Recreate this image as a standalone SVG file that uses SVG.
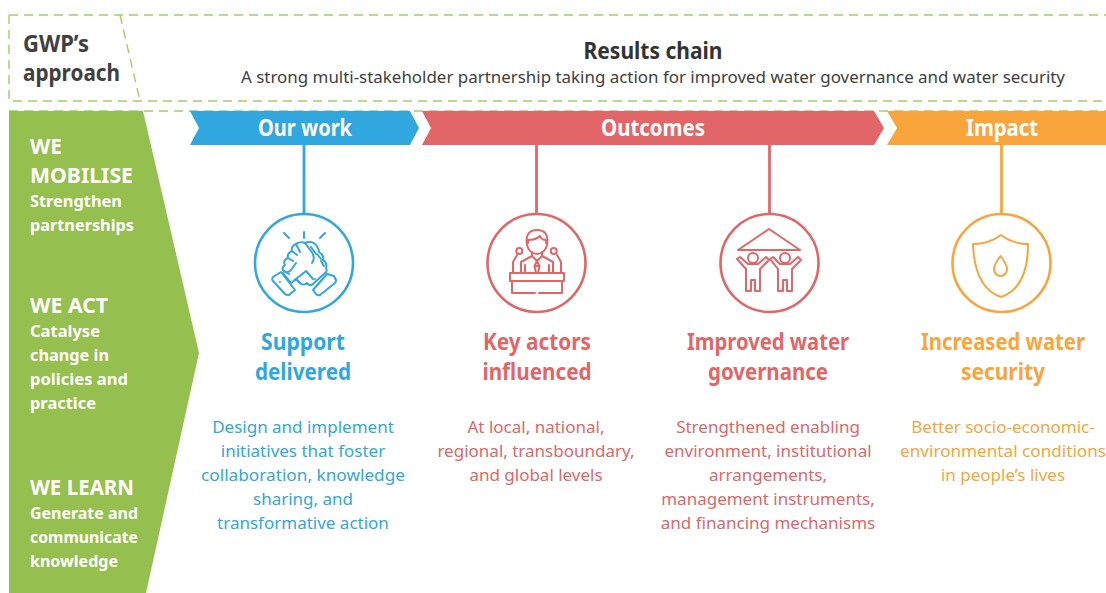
<svg xmlns="http://www.w3.org/2000/svg" width="1106" height="593" viewBox="0 0 1106 593">
<style>
text{font-family:"Noto Sans","Open Sans","Liberation Sans",sans-serif;text-anchor:middle;}
.dash{fill:none;stroke:#a5cb6a;stroke-width:1.4;stroke-dasharray:9 6}
.side{fill:#fff;font-weight:700;text-anchor:start}
.h1{font-size:22px}.h2{font-size:16.500px}
.band{fill:#fff;font-size:23px;font-weight:700}
.title{font-size:23px;font-weight:700}
.body{font-size:17px}
.ic{fill:none;stroke-width:2;stroke-linejoin:round;stroke-linecap:round}
.blue{stroke:#30a7df}.red{stroke:#e26667}.org{stroke:#f9a53c}
.tb{fill:#30a7df}.tr{fill:#e26667}.to{fill:#f9a53c}
.cir{fill:#fff;stroke-width:2.600}
.conn{stroke-width:2.800;fill:none}
</style>
<g id="frame">
<path class="dash" d="M9 15H1106M9 15V101H1106M120 15L140 101M9 111H1106"/>
</g>
<g id="approach"><text x="23" y="52" font-size="23" font-weight="700" fill="#404040" style="text-anchor:start" textLength="66" lengthAdjust="spacingAndGlyphs">GWP’s</text><text x="23" y="81" font-size="23" font-weight="700" fill="#404040" style="text-anchor:start" textLength="97" lengthAdjust="spacingAndGlyphs">approach</text></g>
<g id="header"><text x="653" y="59" font-size="23" font-weight="700" fill="#333" textLength="139" lengthAdjust="spacingAndGlyphs">Results chain</text>
<text x="653" y="83" font-size="16.500" fill="#404040" textLength="824" lengthAdjust="spacingAndGlyphs">A strong multi-stakeholder partnership taking action for improved water governance and water security</text></g>
<g id="sidebar">
<path fill="#95bf4e" d="M9 111H143L199 353L146 593H9Z"/>
<text class="side h1" x="30" y="154" textLength="32" lengthAdjust="spacingAndGlyphs">WE</text><text class="side h1" x="30" y="183" textLength="103" lengthAdjust="spacingAndGlyphs">MOBILISE</text>
<text class="side h2" x="30" y="207" textLength="92" lengthAdjust="spacingAndGlyphs">Strengthen</text><text class="side h2" x="30" y="231" textLength="104" lengthAdjust="spacingAndGlyphs">partnerships</text>
<text class="side h1" x="30" y="313" textLength="78" lengthAdjust="spacingAndGlyphs">WE ACT</text>
<text class="side h2" x="30" y="337" textLength="70" lengthAdjust="spacingAndGlyphs">Catalyse</text><text class="side h2" x="30" y="361" textLength="79" lengthAdjust="spacingAndGlyphs">change in</text><text class="side h2" x="30" y="385" textLength="98" lengthAdjust="spacingAndGlyphs">policies and</text><text class="side h2" x="30" y="409" textLength="66" lengthAdjust="spacingAndGlyphs">practice</text>
<text class="side h1" x="30" y="495" textLength="104" lengthAdjust="spacingAndGlyphs">WE LEARN</text>
<text class="side h2" x="30" y="519" textLength="108" lengthAdjust="spacingAndGlyphs">Generate and</text><text class="side h2" x="30" y="543" textLength="108" lengthAdjust="spacingAndGlyphs">communicate</text><text class="side h2" x="30" y="567" textLength="88" lengthAdjust="spacingAndGlyphs">knowledge</text>
</g>
<g id="connectors">
<path class="conn blue" d="M304 145V215"/><path class="conn red" d="M536.500 145V215"/><path class="conn red" d="M769.500 145V215"/><path class="conn org" d="M1001.500 145V215"/>
</g>
<g id="band-work"><path fill="#30a7df" d="M190 111H410L419 128L410 145H190L199 128Z"/><text class="band" x="305" y="136" textLength="94" lengthAdjust="spacingAndGlyphs">Our work</text></g>
<g id="band-outcomes"><path fill="#e26667" d="M422 111H874L884 128L874 145H422L431 128Z"/><text class="band" x="653" y="136" textLength="104" lengthAdjust="spacingAndGlyphs">Outcomes</text></g>
<g id="band-impact"><path fill="#f9a53c" d="M887 111H1106V145H887L897 128Z"/><text class="band" x="1002" y="136" textLength="72" lengthAdjust="spacingAndGlyphs">Impact</text></g>
<g id="support">
<circle class="cir blue" cx="304" cy="263" r="49"/>
<g class="ic blue">
<path d="M304 232V238M284 233L289 238M325 233L320 238"/>
<path d="M284 271L289 274M296 244C298 242 303 242 305 243C309 241 314 242 316 245C318 248 319 250 319 252C322 254 324 257 323 260C326 262 327 265 326 268C327 270 327 272 325 273L313 284C311 286 308 285 307 283C305 285 302 285 300 283L296 279L291 283L283 273"/>
<path d="M296 244C293 245 291 248 292 251C289 252 287 255 288 258C285 259 283 262 285 265C282 267 282 270 284 271C286 273 289 272 291 270L296 263M292 251L297 255M288 258L293 261M300 252L296 244M305 243L311 251C314 255 315 259 312 263M311 247L316 254M317 254L321 259M321 261L324 266"/>
<path d="M296 279L306 271L313 279M300 283L296 279"/>
<path d="M273 277L281 272L295 290L289 295C287 295 286 295 285 294L273 281C272 280 272 278 273 277ZM334 276L336 280C336 281 336 282 335 283L320 295C318 296 317 295 316 294L313 290L327 274Z"/>
<path d="M280 282V282.010M315 279V279.010"/>
</g>
<text class="title tb" x="303" y="350" textLength="84" lengthAdjust="spacingAndGlyphs">Support</text><text class="title tb" x="303" y="380" textLength="96" lengthAdjust="spacingAndGlyphs">delivered</text>
<text class="body tb" x="303" y="433">Design and implement</text><text class="body tb" x="303" y="457">initiatives that foster</text><text class="body tb" x="303" y="481" textLength="204" lengthAdjust="spacingAndGlyphs">collaboration, knowledge</text><text class="body tb" x="303" y="505">sharing, and</text><text class="body tb" x="303" y="529">transformative action</text>
</g>
<g id="actors">
<circle class="cir red" cx="536.500" cy="263" r="49"/>
<g class="ic red">
<path d="M527 245C525 234 530 230 537 230C544 230 549 234 547 245C546 250 542 254 537 254C532 254 528 250 527 245Z"/>
<path d="M528 243V240C533 240 537 239 540 236C541 239 544 240 546 240V243"/>
<path d="M532 252V256L521 262V273M542 252V256L553 262V273M525 265V273M549 265V273M532 256L537 261L542 256M537 261L534.500 266L536 273M537 261L539.500 266L538 273M534.500 266H539.500"/>
<path d="M513 273V262L517 255M561 273V262L557 255"/>
<circle cx="519.300" cy="251" r="3"/><circle cx="553.700" cy="251" r="3"/>
<path d="M510 273H564V281H510ZM512 281V293H535M539 293H562V281"/>
</g>
<text class="title tr" x="537" y="350" textLength="108" lengthAdjust="spacingAndGlyphs">Key actors</text><text class="title tr" x="537" y="380" textLength="109" lengthAdjust="spacingAndGlyphs">influenced</text>
<text class="body tr" x="536" y="433">At local, national,</text><text class="body tr" x="536" y="457">regional, transboundary,</text><text class="body tr" x="536" y="481">and global levels</text>
</g>
<g id="governance">
<circle class="cir red" cx="769.500" cy="263" r="49"/>
<g class="ic red">
<path d="M738 250L769 229L800 250Z"/>
<circle cx="753" cy="258" r="5"/><circle cx="785" cy="258" r="5"/>
<path d="M737 259L740 257L748 264H758L766 257L769 260L760 269V291H755V280H751V291H746V269Z"/>
<path d="M770 259L773 257L780 264H790L798 257L801 260L792 269V291H787V280H783V291H778V269Z"/>
</g>
<text class="title tr" x="768" y="350" textLength="162" lengthAdjust="spacingAndGlyphs">Improved water</text><text class="title tr" x="768" y="380" textLength="120" lengthAdjust="spacingAndGlyphs">governance</text>
<text class="body tr" x="768" y="433">Strengthened enabling</text><text class="body tr" x="768" y="457">environment, institutional</text><text class="body tr" x="768" y="481">arrangements,</text><text class="body tr" x="768" y="505">management instruments,</text><text class="body tr" x="768" y="529">and financing mechanisms</text>
</g>
<g id="security">
<circle class="cir org" cx="1001.500" cy="263" r="49"/>
<g class="ic org">
<path d="M1001 235C993 241 983 244 973 244C974 272 983 291 1001 297C1019 291 1028 272 1028 244C1018 244 1009 241 1001 235Z"/>
<path d="M1000.500 256C996 262 994 265 994 269C994 273 997 276 1000.500 276C1004 276 1007 273 1007 269C1007 265 1005 262 1000.500 256Z"/>
</g>
<text class="title to" x="1003" y="350" textLength="164" lengthAdjust="spacingAndGlyphs">Increased water</text><text class="title to" x="1003" y="380" textLength="84" lengthAdjust="spacingAndGlyphs">security</text>
<text class="body to" x="1003" y="433">Better socio-economic-</text><text class="body to" x="1003" y="457" textLength="206" lengthAdjust="spacingAndGlyphs">environmental conditions</text><text class="body to" x="1003" y="481">in people’s lives</text>
</g>
</svg>
